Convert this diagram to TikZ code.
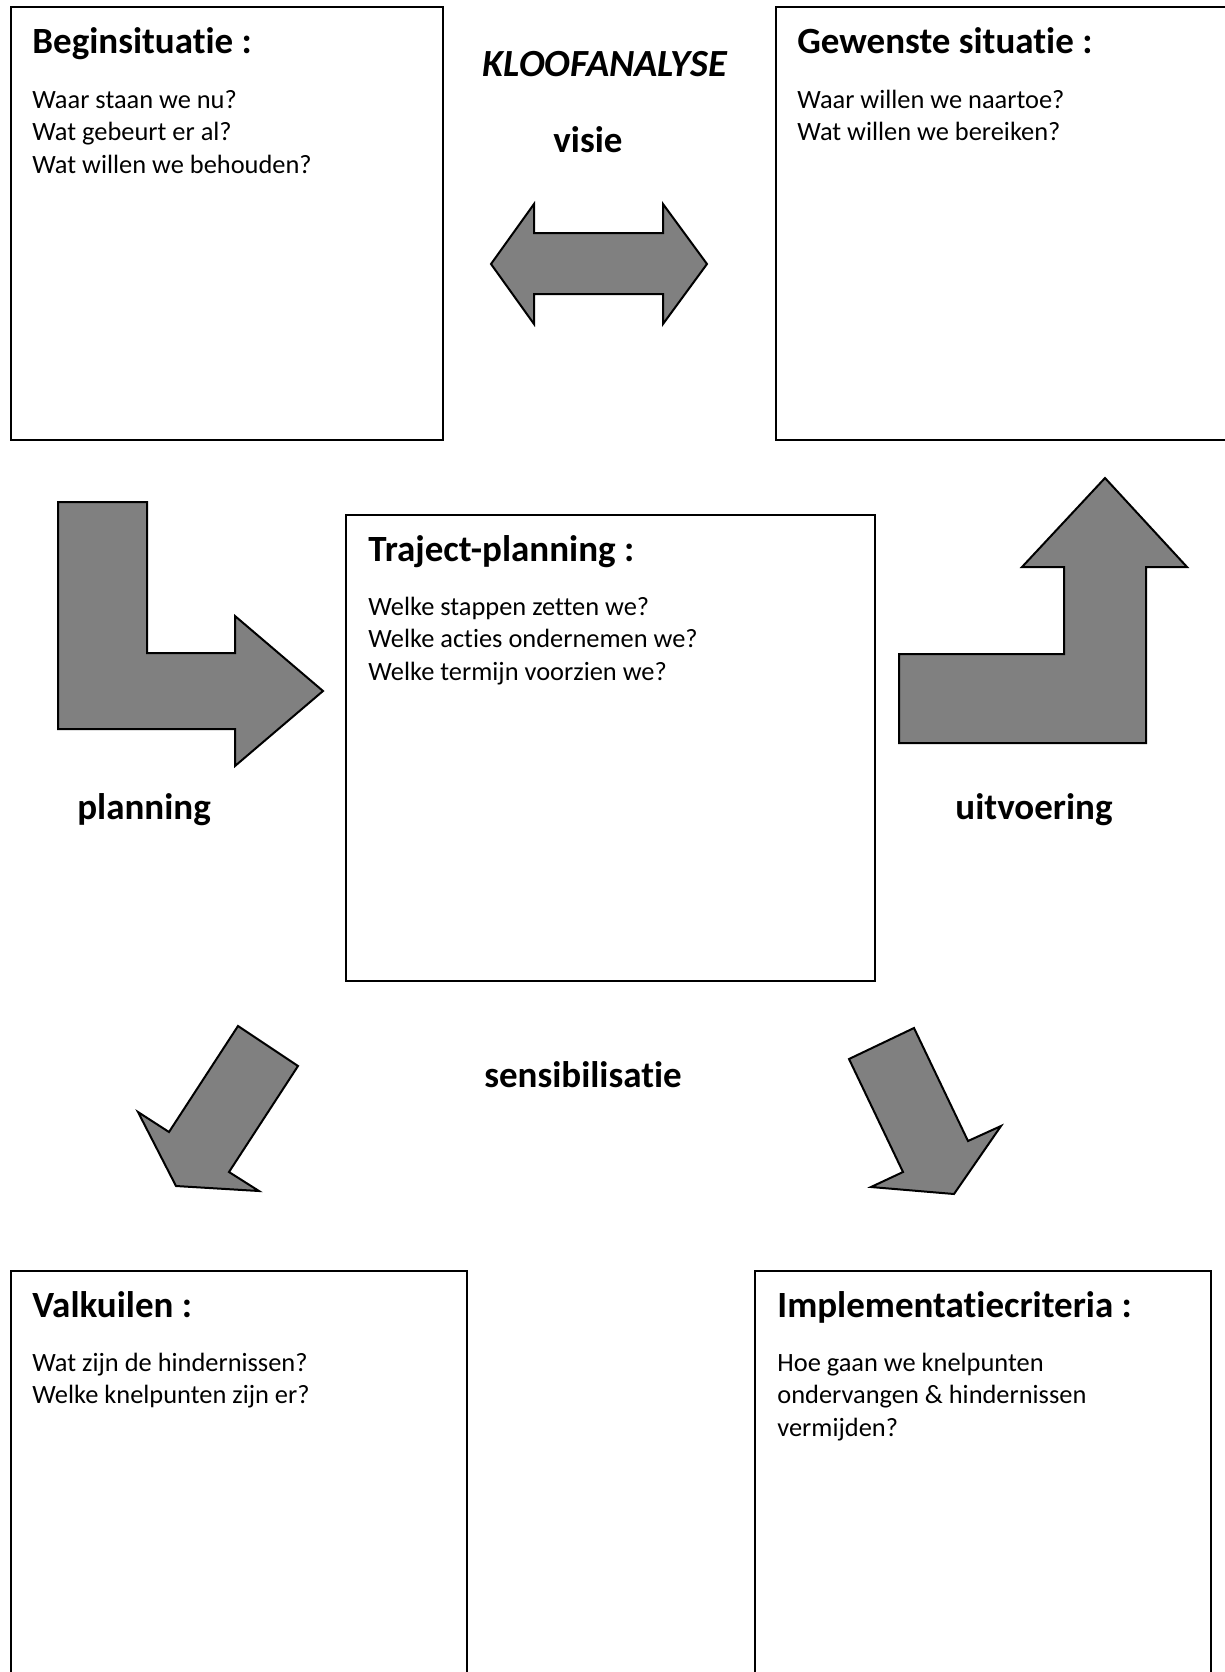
\documentclass[tikz,border=0pt]{standalone}
\usepackage{fontspec}
\setmainfont{Carlito}[Ligatures=NoCommon]
\usetikzlibrary{positioning}
\tikzset{kader/.style = {draw, rectangle, line width=1pt, inner sep=0, outer sep=0,
                         anchor=north west}}
\tikzset{titel/.style = {font=\bfseries\fontsize{18.5}{22}\selectfont, inner sep=0,
                         anchor=base west}}
\tikzset{vraag/.style = {font=\fontsize{13.2}{16.3}\selectfont, inner sep=0,
                         anchor=base west}}
\tikzset{woord/.style = {font=\bfseries\fontsize{18.5}{22}\selectfont, inner sep=0,
                         anchor=base}}
\tikzset{pijl/.style = {draw, fill=pgray, line width=1pt, line join=miter}}
\definecolor{pgray}{rgb}{0.5, 0.5, 0.5}

\begin{document}
\begin{tikzpicture}[x=0.5pt, y=-0.5pt]
      \useasboundingbox (0,0) rectangle (1225,1672);
      \clip (0,0) rectangle (1225,1672);

      % kaders
      \node [kader, minimum width=216pt, minimum height=216.5pt] (begin) at (11,7) {};
      \node [kader, minimum width=235pt, minimum height=216.5pt] (gewenst) at (776,7) {};
      \node [kader, minimum width=264.5pt, minimum height=233pt] (traject) at (346,515) {};
      \node [kader, minimum width=228pt, minimum height=212pt] (valkuil) at (11,1271) {};
      \node [kader, minimum width=228pt, minimum height=212pt] (implement) at (755,1271) {};

      \node [titel] (begin-t) at ([shift={(21,46)}]begin.north west) {Beginsituatie :};
      \node [titel] (gewenst-t) at ([shift={(21,46)}]gewenst.north west) {Gewenste situatie :};
      \node [titel] (traject-t) at ([shift={(22,46)}]traject.north west) {Traject-planning :};
      \node [titel] (valkuil-t) at ([shift={(21,46)}]valkuil.north west) {Valkuilen :};
      \node [titel] (implement-t) at ([shift={(22,46)}]implement.north west) {Implementatiecriteria :};

      \foreach \regel [count=\i from 0] in {Waar staan we nu?, Wat gebeurt er al?,
                                           Wat willen we behouden?} {
        \node [vraag] (begin-\i) at ([shift={(21,{101+32.5*\i})}]begin.north west) {\regel};
      }
      \foreach \regel [count=\i from 0] in {Waar willen we naartoe?, Wat willen we bereiken?} {
        \node [vraag] (gewenst-\i) at ([shift={(21,{101+32.5*\i})}]gewenst.north west) {\regel};
      }
      \foreach \regel [count=\i from 0] in {Welke stappen zetten we?, Welke acties ondernemen we?,
                                           Welke termijn voorzien we?} {
        \node [vraag] (traject-\i) at ([shift={(22,{100+32.5*\i})}]traject.north west) {\regel};
      }
      \foreach \regel [count=\i from 0] in {Wat zijn de hindernissen?, Welke knelpunten zijn er?} {
        \node [vraag] (valkuil-\i) at ([shift={(21,{100+32.5*\i})}]valkuil.north west) {\regel};
      }
      \foreach \regel [count=\i from 0] in {Hoe gaan we knelpunten, ondervangen \& hindernissen,
                                           vermijden?} {
        \node [vraag] (implement-\i) at ([shift={(22,{100+32.5*\i})}]implement.north west) {\regel};
      }

      % losse woorden
      \node [woord, font=\bfseries\itshape\fontsize{19.2}{22}\selectfont] (kloof) at (605,76) {KLOOFANALYSE};
      \node [woord] (visie) at (588,152) {visie};
      \node [woord] (planning) at (144,819) {planning};
      \node [woord] (uitvoering) at (1034,819) {uitvoering};
      \node [woord] (sensib) at (583,1087) {sensibilisatie};

      % blokpijlen
      \draw [pijl] (491,264) -- (534,204) -- (534,233) -- (663,233) -- (663,204) -- (707,264)
                   -- (663,324) -- (663,294) -- (534,294) -- (534,324) -- cycle;
      \draw [pijl] (58,502) -- (147,502) -- (147,653) -- (235,653) -- (235,616) -- (323,691)
                   -- (235,766) -- (235,729) -- (58,729) -- cycle;
      \draw [pijl] (899,654) -- (1064,654) -- (1064,567) -- (1022,567) -- (1105,478)
                   -- (1187,567) -- (1146,567) -- (1146,743) -- (899,743) -- cycle;
      \draw [pijl] (238,1026) -- (298,1066) -- (229,1172) -- (259,1191) -- (176,1186)
                   -- (138,1112) -- (169,1132) -- cycle;
      \draw [pijl] (914,1028) -- (849,1059) -- (903,1172) -- (871,1187) -- (954,1194)
                   -- (1001,1126) -- (968,1141) -- cycle;
\end{tikzpicture}
\end{document}
